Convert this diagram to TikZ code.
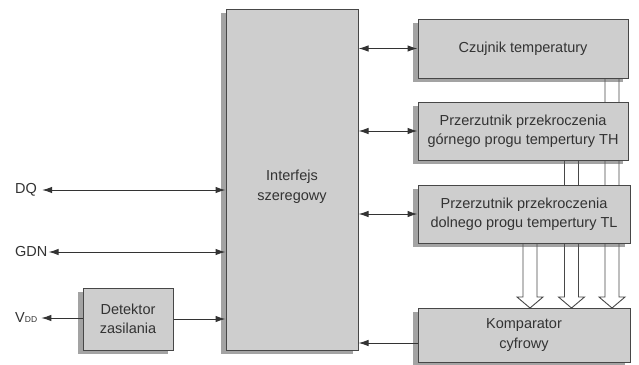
\documentclass[tikz,border=0pt]{standalone}
\usepackage{fontspec}
\setmainfont{Liberation Sans}
\usetikzlibrary{shadows,arrows.meta,calc}
\definecolor{boxfill}{HTML}{CECECE}
\definecolor{ink}{HTML}{333333}
\begin{document}
\begin{tikzpicture}[x=1pt,y=-1pt,
  font=\fontsize{14.5}{19.5}\selectfont,
  blk/.style={draw=ink!90, line width=1pt, fill=boxfill, text=ink, align=center, inner sep=0pt,
    drop shadow={shadow xshift=-5pt, shadow yshift=-4pt, opacity=0.55, fill=black!65}},
  sig/.style={draw=ink, line width=1pt},
  both/.style={{Latex[length=10pt,width=6.5pt]}-{Latex[length=10pt,width=6.5pt]}},
  one/.style={-{Latex[length=10pt,width=6.5pt]}},
  hollow/.style={draw=ink!90, line width=0.9pt, fill=white},
  lbl/.style={text=ink, inner sep=1pt}]
\useasboundingbox (0,0) rectangle (639,364);
\fill[white] (0,0) rectangle (639,364);
\newcommand\hollowarrow[3]{%
  \filldraw[hollow] ({#1-7},#2) -- ({#1-7},{#3-11}) -- ({#1-13},{#3-11}) -- (#1,#3)
    -- ({#1+13},{#3-11}) -- ({#1+7},{#3-11}) -- ({#1+7},#2);}
% hollow bus arrows (behind the boxes)
\hollowarrow{530}{214}{308}
\hollowarrow{571.5}{131}{308}
\hollowarrow{612}{40}{308}
% blocks
\node[blk, minimum width=132, minimum height=341,
  label={[lbl, align=center, yshift=-7pt]center:Interfejs\\szeregowy}] (iface) at (292,179.5) {};
\node[blk, minimum width=210, minimum height=59] (czuj) at (523,48.5) {Czujnik temperatury};
\node[blk, minimum width=210, minimum height=58] (th) at (523,131) {Przerzutnik przekroczenia\\górnego progu tempertury TH};
\node[blk, minimum width=212, minimum height=58] (tl) at (524,214) {Przerzutnik przekroczenia\\dolnego progu tempertury TL};
\node[blk, minimum width=212, minimum height=54] (komp) at (524,335) {Komparator\\cyfrowy};
\node[blk, minimum width=90, minimum height=62] (det) at (128,319) {Detektor\\zasilania};
% left labels
\node[lbl, anchor=west] (dq) at (14,190) {DQ};
\node[lbl, anchor=west] (gdn) at (14,252) {GDN};
\node[lbl, anchor=west] (vdd) at (14,318) {V{\fontsize{8.5}{9}\selectfont DD}};
% connectors
\draw[sig, both] ($(dq.east)+(4,0)$) -- (iface.west |- dq.east);
\draw[sig, both] (gdn.east) -- (iface.west |- gdn.east);
\draw[sig, one] (det.west |- vdd.east) -- ($(vdd.east)+(3,0)$);
\draw[sig, one] (det.east) -- (iface.west |- det.east);
\draw[sig, both] (iface.east |- czuj.west) -- (czuj.west);
\draw[sig, both] (iface.east |- th.west) -- (th.west);
\draw[sig, both] (iface.east |- tl.west) -- (tl.west);
\coordinate (kout) at ($(komp.west)+(0,8)$);
\draw[sig, one] (kout) -- (iface.east |- kout);
\end{tikzpicture}
\end{document}
